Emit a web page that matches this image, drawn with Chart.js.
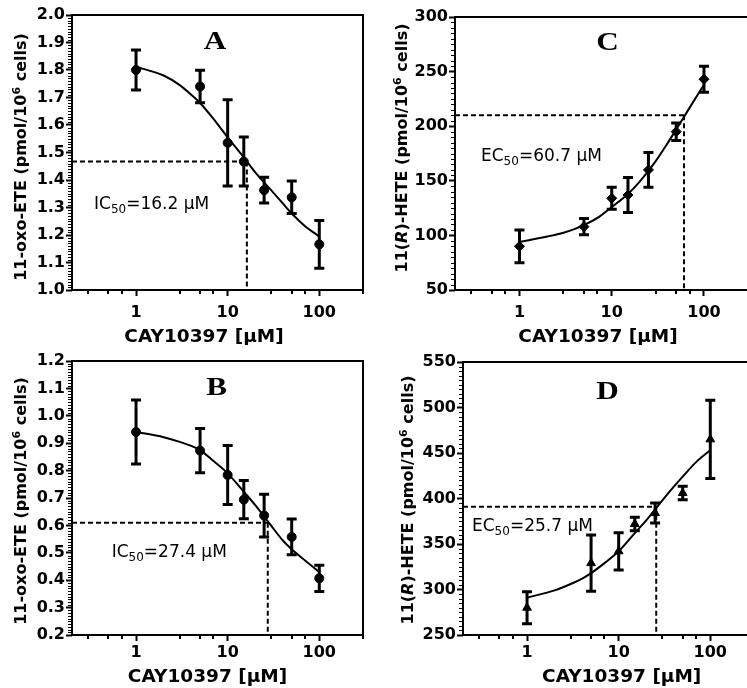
<!DOCTYPE html>
<html>
<head>
<meta charset="utf-8">
<script src="https://cdn.jsdelivr.net/npm/chart.js@4.4.1/dist/chart.umd.min.js"></script>
<style>
  html, body { margin: 0; padding: 0; background: #fff; }
  body { position: relative; width: 747px; height: 688px; overflow: hidden; }
  canvas { position: absolute; }
</style>
</head>
<body>
<canvas id="panelA" width="373" height="345" style="left:0px;top:0px"></canvas>
<canvas id="panelB" width="373" height="343" style="left:0px;top:345px"></canvas>
<canvas id="panelC" width="380" height="345" style="left:380px;top:0px"></canvas>
<canvas id="panelD" width="380" height="343" style="left:380px;top:345px"></canvas>
<script>
// CAY10397 concentrations (µM) and the x positions used for the fitted curves
const conc = [1, 5, 10, 15, 25, 50, 100];
const fitConc = [1, 2, 3, 4, 5, 7, 10, 15, 20, 30, 40, 50, 70, 100];
const xMajorTicks = [1, 10, 100];
const xMinorTicks = [0.3, 0.5, 0.7, 3, 5, 7, 30, 50, 70, 300];

// A: 11-oxo-ETE (pmol/10^6 cells)
const oxoEteA = [1.80, 1.74, 1.535, 1.467, 1.363, 1.337, 1.166];
const oxoEteSemA = [0.073, 0.059, 0.157, 0.089, 0.047, 0.059, 0.087];
const oxoEteFitA = [1.812, 1.78, 1.745, 1.71, 1.68, 1.622, 1.555, 1.482, 1.428, 1.362, 1.315, 1.278, 1.232, 1.195];
const ic50A = 16.2;
const halfLevelA = 1.467;

// B: 11-oxo-ETE (pmol/10^6 cells)
const oxoEteB = [0.941, 0.873, 0.784, 0.694, 0.636, 0.558, 0.407];
const oxoEteSemB = [0.117, 0.081, 0.108, 0.070, 0.078, 0.065, 0.048];
const oxoEteFitB = [0.941, 0.922, 0.905, 0.89, 0.875, 0.835, 0.79, 0.723, 0.674, 0.598, 0.545, 0.513, 0.472, 0.43];
const ic50B = 27.4;
const halfLevelB = 0.61;

// C: 11(R)-HETE (pmol/10^6 cells)
const heteC = [90, 108, 134, 137, 160, 195, 243];
const heteSemC = [15, 7.5, 10, 16, 16, 8, 12];
const heteFitC = [94, 99, 102.5, 106, 109.5, 116, 126, 138, 149, 168, 184, 197, 217, 238];
const ec50C = 60.7;
const halfLevelC = 210;

// D: 11(R)-HETE (pmol/10^6 cells)
const heteD = [280, 329, 342, 372, 384, 406, 465];
const heteSemD = [17.5, 31, 20.5, 7.5, 11, 7.5, 43];
const heteFitD = [291, 299, 306, 312, 318, 329, 342, 362, 376, 398, 413, 424, 440, 453];
const ec50D = 25.7;
const halfLevelD = 391;

const BOLD = "bold 16px 'DejaVu Sans'";
const SUP = "bold 11px 'DejaVu Sans'";

const oxoTitle = [
  { text: '11-oxo-ETE (pmol/10', font: BOLD, shift: 0 },
  { text: '6', font: SUP, shift: -6 },
  { text: ' cells)', font: BOLD, shift: 0 }
];
const heteTitle = [
  { text: '11(', font: BOLD, shift: 0 },
  { text: 'R', font: "italic bold 16px 'DejaVu Sans'", shift: 0 },
  { text: ')-HETE (pmol/10', font: BOLD, shift: 0 },
  { text: '6', font: SUP, shift: -6 },
  { text: ' cells)', font: BOLD, shift: 0 }
];

// Per-canvas drawing settings for the extras plugin (kept outside Chart options)
const panelSettings = {};

// Draws a run of text pieces; each piece may be shifted (sub/superscript) or use its own font
function drawRuns(ctx, runs, x, baseline) {
  let cx = x;
  for (const r of runs) {
    ctx.font = r.font;
    ctx.fillText(r.text, cx, baseline + r.shift);
    cx += ctx.measureText(r.text).width;
  }
}
function runsWidth(ctx, runs) {
  let w = 0;
  for (const r of runs) { ctx.font = r.font; w += ctx.measureText(r.text).width; }
  return w;
}

const panelExtras = {
  id: 'panelExtras',
  beforeDatasetsDraw(chart) {
    const o = panelSettings[chart.canvas.id];
    const { ctx, chartArea: a } = chart;
    const x = chart.scales.x, y = chart.scales.y;
    ctx.save();
    ctx.beginPath();
    ctx.rect(a.left, a.top, a.right - a.left, a.bottom - a.top);
    ctx.clip();
    ctx.strokeStyle = '#000';
    // half-maximal concentration guide lines
    const gx = x.getPixelForValue(o.halfConc);
    const gy = y.getPixelForValue(o.halfLevel);
    ctx.lineWidth = 2;
    ctx.setLineDash([5, 3]);
    ctx.beginPath();
    ctx.moveTo(a.left, gy); ctx.lineTo(gx, gy);
    ctx.moveTo(gx, gy); ctx.lineTo(gx, a.bottom);
    ctx.stroke();
    ctx.setLineDash([]);
    // mean ± SEM error bars
    ctx.lineWidth = 3;
    o.means.forEach((m, i) => {
      const px = x.getPixelForValue(conc[i]);
      const t = y.getPixelForValue(m + o.sem[i]);
      const b = y.getPixelForValue(m - o.sem[i]);
      ctx.beginPath();
      ctx.moveTo(px, t); ctx.lineTo(px, b);
      ctx.moveTo(px - 5, t); ctx.lineTo(px + 5, t);
      ctx.moveTo(px - 5, b); ctx.lineTo(px + 5, b);
      ctx.stroke();
    });
    ctx.restore();
  },
  afterDraw(chart) {
    const o = panelSettings[chart.canvas.id];
    const { ctx, chartArea: a } = chart;
    const x = chart.scales.x, y = chart.scales.y;
    ctx.save();
    ctx.strokeStyle = '#000';
    ctx.fillStyle = '#000';
    // plot frame
    ctx.lineWidth = 2;
    ctx.strokeRect(a.left, a.top, a.right - a.left, a.bottom - a.top);
    // minor ticks on the y axis
    ctx.lineWidth = 1;
    const n = Math.round((y.max - y.min) / o.yMinor);
    ctx.beginPath();
    for (let k = 1; k < n; k++) {
      if (k % 10 === 0) continue;
      const py = Math.round(y.getPixelForValue(y.min + k * o.yMinor)) + 0.5;
      ctx.moveTo(a.left - 4, py); ctx.lineTo(a.left, py);
    }
    ctx.stroke();
    // minor ticks on the log x axis
    ctx.lineWidth = 2;
    ctx.beginPath();
    xMinorTicks.forEach(v => {
      const px = Math.round(x.getPixelForValue(v));
      ctx.moveTo(px, a.bottom); ctx.lineTo(px, a.bottom + 4);
    });
    ctx.stroke();
    // panel letter
    ctx.save();
    ctx.translate(o.letterPos[0], o.letterPos[1]);
    ctx.scale(1.2, 1);
    ctx.font = "bold 26px 'Liberation Serif'";
    ctx.textAlign = 'center';
    ctx.textBaseline = 'alphabetic';
    ctx.fillText(o.letter, 0, 8.6);
    ctx.restore();
    // IC50 / EC50 annotation
    ctx.textAlign = 'left';
    ctx.textBaseline = 'alphabetic';
    drawRuns(ctx, [
      { text: o.halfLabel[0], font: "17px 'DejaVu Sans'", shift: 0 },
      { text: '50', font: "12px 'DejaVu Sans'", shift: 4 },
      { text: o.halfLabel[1], font: "17px 'DejaVu Sans'", shift: 0 }
    ], o.notePos[0], o.notePos[1] + 6.2);
    // x axis title
    ctx.font = "bold 18.5px 'DejaVu Sans'";
    ctx.textAlign = 'center';
    ctx.fillText('CAY10397 [µM]', o.xTitlePos[0], o.xTitlePos[1] + 6.7);
    // y axis title, rotated
    ctx.save();
    ctx.translate(o.yTitlePos[0], o.yTitlePos[1]);
    ctx.rotate(-Math.PI / 2);
    ctx.textAlign = 'left';
    const w = runsWidth(ctx, o.yTitle);
    drawRuns(ctx, o.yTitle, -w / 2, 5.8);
    ctx.restore();
    ctx.restore();
  }
};

function makePanel(id, p) {
  panelSettings[id] = p;
  const fitPoints = fitConc.map((c, i) => ({ x: c, y: p.fit[i] }));
  const meanPoints = conc.map((c, i) => ({ x: c, y: p.means[i] }));
  return new Chart(document.getElementById(id), {
    type: 'scatter',
    data: {
      datasets: [
        {
          data: meanPoints,
          order: 0,
          pointStyle: p.marker,
          pointRadius: p.markerSize,
          backgroundColor: '#000',
          borderColor: '#000',
          borderWidth: 1,
          showLine: false
        },
        {
          type: 'line',
          data: fitPoints,
          order: 1,
          borderColor: '#000',
          borderWidth: 2,
          pointRadius: 0,
          fill: false,
          cubicInterpolationMode: 'monotone'
        }
      ]
    },
    options: {
      responsive: false,
      animation: false,
      events: [],
      layout: { padding: { top: p.padTop, right: p.padRight, left: 0, bottom: 0 } },
      scales: {
        x: {
          type: 'logarithmic',
          min: 0.2,
          max: 300,
          afterBuildTicks: s => { s.ticks = xMajorTicks.map(v => ({ value: v })); },
          afterFit: s => { s.height = p.xHeight; },
          border: { display: false },
          grid: { drawOnChartArea: false, drawTicks: true, tickLength: 6, tickWidth: 2, color: '#000' },
          ticks: {
            autoSkip: false, maxRotation: 0, color: '#000', padding: p.xTickPad,
            font: { family: 'DejaVu Sans', size: 16, weight: 'bold' },
            callback: v => String(v)
          }
        },
        y: {
          min: p.yMin,
          max: p.yMax,
          afterFit: s => { s.width = p.yWidth; },
          border: { display: false },
          grid: { drawOnChartArea: false, drawTicks: true, tickLength: 6, tickWidth: 2, color: '#000' },
          ticks: {
            stepSize: p.yStep, color: '#000', padding: 1,
            font: { family: 'DejaVu Sans', size: 16, weight: 'bold' },
            callback: v => v.toFixed(p.decimals)
          }
        }
      },
      plugins: {
        legend: { display: false },
        tooltip: { enabled: false }
      }
    },
    plugins: [panelExtras]
  });
}

makePanel('panelA', {
  means: oxoEteA, sem: oxoEteSemA, fit: oxoEteFitA, marker: 'circle', markerSize: 4.5,
  halfConc: ic50A, halfLevel: halfLevelA,
  yMin: 1.0, yMax: 2.0, yStep: 0.1, yMinor: 0.01, decimals: 1,
  padTop: 15, padRight: 10, yWidth: 72, xHeight: 55, xTickPad: 7,
  letter: 'A', letterPos: [215, 40],
  halfLabel: ['IC', '=16.2 µM'], notePos: [94, 202.7],
  xTitlePos: [204, 335], yTitlePos: [20, 157], yTitle: oxoTitle
});

makePanel('panelB', {
  means: oxoEteB, sem: oxoEteSemB, fit: oxoEteFitB, marker: 'circle', markerSize: 4.5,
  halfConc: ic50B, halfLevel: halfLevelB,
  yMin: 0.2, yMax: 1.2, yStep: 0.1, yMinor: 0.01, decimals: 1,
  padTop: 16, padRight: 10, yWidth: 72, xHeight: 53, xTickPad: 2,
  letter: 'B', letterPos: [216.7, 41.7],
  halfLabel: ['IC', '=27.4 µM'], notePos: [111.7, 205.7],
  xTitlePos: [207.5, 330], yTitlePos: [20, 156], yTitle: oxoTitle
});

makePanel('panelC', {
  means: heteC, sem: heteSemC, fit: heteFitC, marker: 'rectRot', markerSize: 5,
  halfConc: ec50C, halfLevel: halfLevelC,
  yMin: 50, yMax: 300, yStep: 50, yMinor: 5, decimals: 0,
  padTop: 17, padRight: 12, yWidth: 75, xHeight: 55, xTickPad: 7,
  letter: 'C', letterPos: [227.5, 41],
  halfLabel: ['EC', '=60.7 µM'], notePos: [101, 155],
  xTitlePos: [218, 335], yTitlePos: [21, 148], yTitle: heteTitle
});

makePanel('panelD', {
  means: heteD, sem: heteSemD, fit: heteFitD, marker: 'triangle', markerSize: 5,
  halfConc: ec50D, halfLevel: halfLevelD,
  yMin: 250, yMax: 550, yStep: 50, yMinor: 5, decimals: 0,
  padTop: 17, padRight: 6, yWidth: 83, xHeight: 53, xTickPad: 2,
  letter: 'D', letterPos: [227.5, 45.8],
  halfLabel: ['EC', '=25.7 µM'], notePos: [92, 180],
  xTitlePos: [241.7, 330], yTitlePos: [27, 155], yTitle: heteTitle
});
</script>
</body>
</html>
